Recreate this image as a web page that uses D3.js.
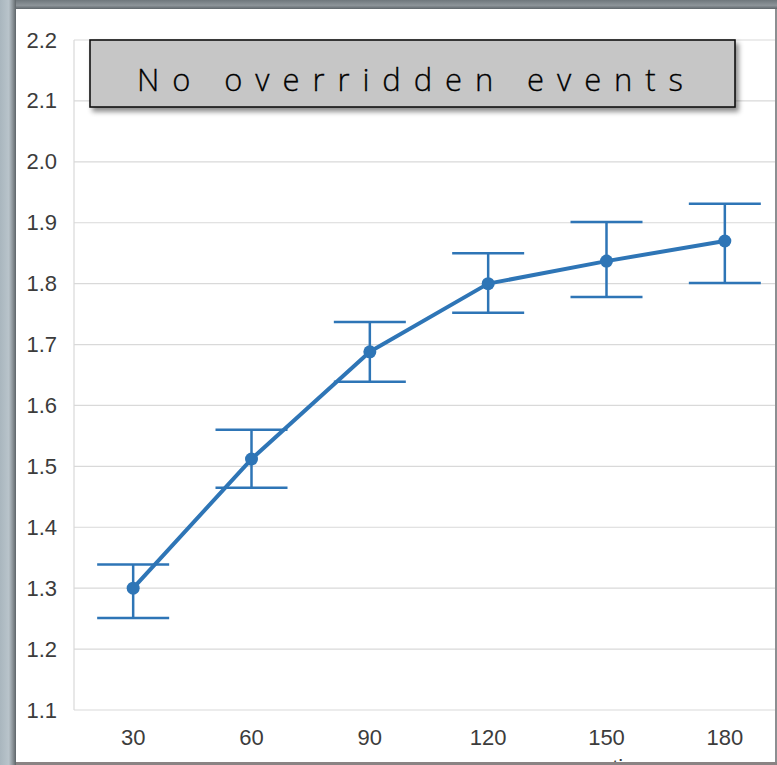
<!DOCTYPE html>
<html>
<head>
<meta charset="utf-8">
<script src="https://cdn.jsdelivr.net/npm/d3@7"></script>
<style>
  html, body { margin: 0; padding: 0; background: #ffffff; }
  svg { display: block; }
</style>
</head>
<body>
<script>
// Duration categories (x axis) and the measured means with their error bounds
const durations = ["30", "60", "90", "120", "150", "180"];
const means     = [1.30, 1.512, 1.688, 1.800, 1.837, 1.870];
const lowers    = [1.251, 1.465, 1.639, 1.752, 1.778, 1.801];
const uppers    = [1.339, 1.560, 1.737, 1.850, 1.901, 1.931];
const yTicks    = [1.1, 1.2, 1.3, 1.4, 1.5, 1.6, 1.7, 1.8, 1.9, 2.0, 2.1, 2.2];
const titleText = "No overridden events";
const axisTitle = "time";

const W = 777, H = 765;
const plot = { left: 74, right: 784, top: 40, bottom: 710 };
const blue = "#2e75b6";

const svg = d3.select("body").append("svg")
  .attr("width", W).attr("height", H);

const defs = svg.append("defs");
defs.append("clipPath").attr("id", "inner")
  .append("rect").attr("x", 16).attr("y", 9).attr("width", 759).attr("height", 753);

const gTop = defs.append("linearGradient").attr("id", "gTop")
  .attr("x1", 0).attr("y1", 0).attr("x2", 0).attr("y2", 1);
gTop.append("stop").attr("offset", "0%").attr("stop-color", "#6f777c");
gTop.append("stop").attr("offset", "60%").attr("stop-color", "#8d9499");
gTop.append("stop").attr("offset", "100%").attr("stop-color", "#5f666b");

const gLeft = defs.append("linearGradient").attr("id", "gLeft")
  .attr("x1", 0).attr("y1", 0).attr("x2", 1).attr("y2", 0);
gLeft.append("stop").attr("offset", "0%").attr("stop-color", "#a9b6be");
gLeft.append("stop").attr("offset", "55%").attr("stop-color", "#b9c4cb");
gLeft.append("stop").attr("offset", "80%").attr("stop-color", "#8a9297");
gLeft.append("stop").attr("offset", "100%").attr("stop-color", "#5e6569");

const shadow = defs.append("filter").attr("id", "boxShadow")
  .attr("x", "-5%").attr("y", "-20%").attr("width", "115%").attr("height", "150%");
shadow.append("feDropShadow")
  .attr("dx", 3).attr("dy", 4).attr("stdDeviation", 2.5)
  .attr("flood-color", "#000").attr("flood-opacity", 0.45);

// Scales
const x = d3.scaleBand().domain(durations).range([plot.left, plot.right]).padding(0);
const y = d3.scaleLinear().domain([1.1, 2.2]).range([plot.bottom, plot.top]);
const cx = d => x(d) + x.bandwidth() / 2;

const g = svg.append("g").attr("clip-path", "url(#inner)");

// Horizontal gridlines
g.append("g")
  .selectAll("line").data(yTicks).join("line")
  .attr("x1", plot.left).attr("x2", plot.right)
  .attr("y1", d => y(d)).attr("y2", d => y(d))
  .attr("stroke", "#d9d9d9").attr("stroke-width", 1.2);

// Y axis line
g.append("line")
  .attr("x1", plot.left).attr("x2", plot.left)
  .attr("y1", plot.top).attr("y2", plot.bottom)
  .attr("stroke", "#d9d9d9").attr("stroke-width", 1.2);

// Y axis labels
const yAxis = d3.axisLeft(y).tickValues(yTicks).tickFormat(d3.format(".1f")).tickSize(0).tickPadding(17);
const ya = g.append("g").attr("transform", `translate(${plot.left},0)`).call(yAxis);
ya.select(".domain").remove();
ya.selectAll("text")
  .attr("font-family", "'Liberation Sans', Arial, sans-serif")
  .attr("font-size", 22).attr("fill", "#3c3c3c");

// X axis labels
const xAxis = d3.axisBottom(x).tickSize(0).tickPadding(19);
const xa = g.append("g").attr("transform", `translate(0,${plot.bottom})`).call(xAxis);
xa.select(".domain").remove();
xa.selectAll("text")
  .attr("font-family", "'Liberation Sans', Arial, sans-serif")
  .attr("font-size", 22).attr("fill", "#3c3c3c");

// X axis title, mostly below the visible edge
g.append("text")
  .attr("x", 633).attr("y", 775)
  .attr("text-anchor", "middle")
  .attr("font-family", "'Liberation Sans', Arial, sans-serif")
  .attr("font-size", 22).attr("fill", "#3c3c3c")
  .text(axisTitle);

// Error bars
const rows = durations.map((d, i) => ({ d, m: means[i], lo: lowers[i], hi: uppers[i] }));
const capHalf = 36;
const eb = g.append("g").attr("stroke", blue).attr("stroke-width", 2.5).attr("fill", "none");
eb.selectAll("line.v").data(rows).join("line").attr("class", "v")
  .attr("x1", r => cx(r.d)).attr("x2", r => cx(r.d))
  .attr("y1", r => y(r.lo)).attr("y2", r => y(r.hi));
eb.selectAll("line.top").data(rows).join("line").attr("class", "top")
  .attr("x1", r => cx(r.d) - capHalf).attr("x2", r => cx(r.d) + capHalf)
  .attr("y1", r => y(r.hi)).attr("y2", r => y(r.hi));
eb.selectAll("line.bot").data(rows).join("line").attr("class", "bot")
  .attr("x1", r => cx(r.d) - capHalf).attr("x2", r => cx(r.d) + capHalf)
  .attr("y1", r => y(r.lo)).attr("y2", r => y(r.lo));

// Mean line and markers
const line = d3.line().x(r => cx(r.d)).y(r => y(r.m));
g.append("path").datum(rows)
  .attr("d", line).attr("fill", "none")
  .attr("stroke", blue).attr("stroke-width", 4)
  .attr("stroke-linejoin", "round");
g.append("g").selectAll("circle").data(rows).join("circle")
  .attr("cx", r => cx(r.d)).attr("cy", r => y(r.m)).attr("r", 6.5)
  .attr("fill", blue);

// Title box
const box = g.append("g");
box.append("rect")
  .attr("x", 90).attr("y", 40).attr("width", 645).attr("height", 67)
  .attr("fill", "#c6c6c6").attr("stroke", "#111").attr("stroke-width", 1.6)
  .attr("filter", "url(#boxShadow)");
box.append("text")
  .attr("x", 137).attr("y", 91)
  .attr("textLength", 546).attr("lengthAdjust", "spacing")
  .attr("font-family", "'Open Sans', 'Noto Sans', sans-serif")
  .attr("font-weight", 300)
  .attr("font-size", 31).attr("fill", "#000")
  .attr("stroke", "#000").attr("stroke-width", 0.3)
  .text(titleText);

// Window frame
svg.append("rect").attr("x", 0).attr("y", 0).attr("width", W).attr("height", 9).attr("fill", "url(#gTop)");
svg.append("rect").attr("x", 0).attr("y", 0).attr("width", 16).attr("height", H).attr("fill", "url(#gLeft)");
svg.append("rect").attr("x", 775).attr("y", 9).attr("width", 2).attr("height", H - 9).attr("fill", "#8c8f91");
svg.append("rect").attr("x", 16).attr("y", 762).attr("width", W - 16).attr("height", 3).attr("fill", "#8a8384");
</script>
</body>
</html>
